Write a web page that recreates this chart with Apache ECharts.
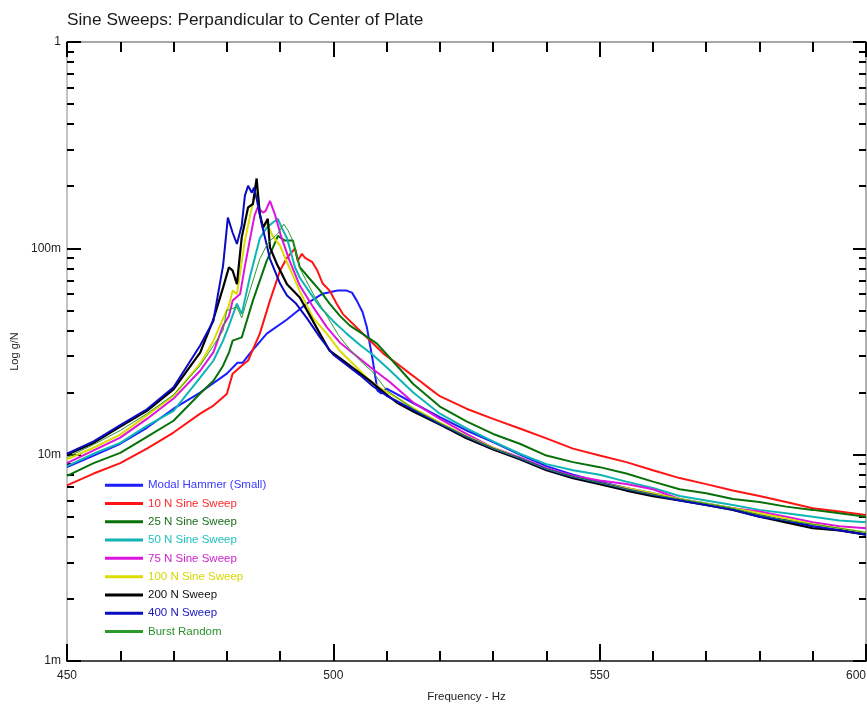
<!DOCTYPE html>
<html>
<head>
<meta charset="utf-8">
<script src="https://cdn.jsdelivr.net/npm/echarts@6/dist/echarts.min.js"></script>
<style>
  html, body { margin: 0; padding: 0; background: #ffffff; }
  #chart { width: 867px; height: 709px; }
</style>
</head>
<body>
<div id="chart"></div>
<script>
// Frequency response (g/N) of the plate, measured perpendicular to its center.
// Each series: [frequency in Hz, response in g/N]

const modalHammer = [
  [450, 0.0087], [455, 0.0099], [460, 0.0113], [465, 0.0135], [470, 0.0167], [475, 0.0200],
  [480, 0.0247], [482, 0.0279], [483, 0.0279], [484.3, 0.0309], [487.5, 0.0386], [491.3, 0.0452],
  [495, 0.0540], [498, 0.0603], [500.8, 0.0624], [502.5, 0.0624], [503.5, 0.0610], [504.4, 0.0558],
  [505.5, 0.0490], [506.3, 0.0414], [507.4, 0.0286], [508.3, 0.0204], [509, 0.0198], [510, 0.0209],
  [515, 0.0178], [520, 0.0152], [525, 0.0131], [530, 0.0115], [535, 0.0100], [540, 0.0088],
  [545, 0.0080], [550, 0.0074], [555, 0.0069], [560, 0.0065], [565, 0.0061], [570, 0.0058],
  [575, 0.0055], [580, 0.0051], [585, 0.0048], [590, 0.0045], [595, 0.0043], [600, 0.0041]
];

const sweep10N = [
  [450, 0.0071], [455, 0.0081], [460, 0.0091], [465, 0.0107], [470, 0.0128], [475, 0.0158],
  [477.5, 0.0173], [480, 0.0197], [481.1, 0.0247], [482.8, 0.0270], [484, 0.0286], [486.2, 0.0386],
  [488.1, 0.0558], [490, 0.0780], [491.3, 0.0900], [492.8, 0.1000], [493.3, 0.0870], [494.1, 0.0940],
  [494.7, 0.0900], [496, 0.0860], [497, 0.0780], [498, 0.0675], [499.3, 0.0624], [500.6, 0.0540],
  [501.8, 0.0480], [503.7, 0.0430], [505.6, 0.0385], [507.5, 0.0345], [509.4, 0.0309], [512, 0.0276],
  [514.4, 0.0247], [516.2, 0.0228], [518.1, 0.0209], [520, 0.0192], [525, 0.0167], [530, 0.0149],
  [535, 0.0134], [540, 0.0120], [545, 0.0107], [550, 0.0099], [555, 0.0092], [560, 0.0084],
  [565, 0.0077], [570, 0.0072], [575, 0.0067], [580, 0.0063], [585, 0.0059], [590, 0.0055],
  [595, 0.0053], [600, 0.0051]
];

const sweep25N = [
  [450, 0.0079], [455, 0.0091], [460, 0.0102], [465, 0.0122], [470, 0.0146], [475, 0.0198],
  [477.5, 0.0228], [479.3, 0.0270], [480.4, 0.0312], [481.1, 0.0357], [482.8, 0.0370], [484.9, 0.0558],
  [487.5, 0.0872], [488.6, 0.1000], [489.6, 0.1150], [490.9, 0.1090], [492.4, 0.1090], [493.7, 0.0810],
  [495.6, 0.0710], [497.5, 0.0624], [499.3, 0.0540], [501.2, 0.0472], [503.1, 0.0422], [505.5, 0.0385],
  [508.2, 0.0345], [510.6, 0.0295], [515, 0.0220], [520, 0.0171], [525, 0.0145], [530, 0.0126],
  [535, 0.0113], [540, 0.0099], [545, 0.0092], [550, 0.0087], [555, 0.0081], [560, 0.0074],
  [565, 0.0068], [570, 0.0065], [575, 0.0061], [580, 0.0059], [585, 0.0056], [590, 0.0054],
  [595, 0.0052], [600, 0.0050]
];

const sweep50N = [
  [450, 0.0088], [455, 0.0101], [460, 0.0114], [465, 0.0138], [470, 0.0163], [475, 0.0236],
  [477.5, 0.0286], [479.3, 0.0357], [480.4, 0.0422], [481.9, 0.0540], [482.8, 0.0480], [484.3, 0.0720],
  [486.2, 0.1120], [487.5, 0.1260], [488.6, 0.1330], [489.6, 0.1390], [490.3, 0.1260], [491.3, 0.1120],
  [492.8, 0.0810], [493.7, 0.0720], [495.6, 0.0610], [497.5, 0.0520], [499.9, 0.0446], [502.5, 0.0386],
  [505, 0.0340], [507.4, 0.0305], [510, 0.0265], [515, 0.0200], [520, 0.0158], [525, 0.0134],
  [530, 0.0116], [535, 0.0101], [540, 0.0090], [545, 0.0084], [550, 0.0080], [555, 0.0074],
  [560, 0.0069], [565, 0.0063], [570, 0.0060], [575, 0.0057], [580, 0.0054], [585, 0.0052],
  [590, 0.0050], [595, 0.0048], [600, 0.0047]
];

const sweep75N = [
  [450, 0.0091], [455, 0.0105], [460, 0.0121], [465, 0.0149], [470, 0.0187], [475, 0.0255],
  [477.5, 0.0314], [479.3, 0.0422], [480.4, 0.0470], [481.1, 0.0558], [482.5, 0.0600], [483.4, 0.0820],
  [484.3, 0.1090], [485.2, 0.1440], [485.8, 0.1580], [486.8, 0.1490], [487.3, 0.1520], [488.1, 0.1700],
  [489, 0.1470], [490.3, 0.1120], [491.8, 0.0870], [493.7, 0.0660], [496.2, 0.0520], [498.8, 0.0414],
  [501.2, 0.0350], [504.4, 0.0300], [507.4, 0.0260], [510.6, 0.0225], [515, 0.0179], [520, 0.0149],
  [525, 0.0126], [530, 0.0108], [535, 0.0097], [540, 0.0086], [545, 0.0079], [550, 0.0075],
  [555, 0.0072], [560, 0.0068], [565, 0.0061], [570, 0.0057], [575, 0.0055], [580, 0.0053],
  [585, 0.0050], [590, 0.0047], [595, 0.0045], [600, 0.0044]
];

const sweep100N = [
  [450, 0.0095], [455, 0.0108], [460, 0.0125], [465, 0.0155], [470, 0.0193], [475, 0.0276],
  [477.5, 0.0357], [479.3, 0.0456], [480.4, 0.0528], [481.1, 0.0624], [481.9, 0.0600], [483.4, 0.1090],
  [484.7, 0.1580], [485.6, 0.1950], [486.2, 0.1470], [486.8, 0.1260], [487.5, 0.1330], [488.6, 0.1150],
  [490, 0.1030], [491, 0.0890], [492.4, 0.0740], [493.7, 0.0620], [496.2, 0.0460], [498.8, 0.0385],
  [501.2, 0.0319], [503.7, 0.0276], [506.3, 0.0236], [508.7, 0.0211], [511.9, 0.0189], [515, 0.0168],
  [520, 0.0143], [525, 0.0123], [530, 0.0108], [535, 0.0096], [540, 0.0085], [545, 0.0078],
  [550, 0.0073], [555, 0.0069], [560, 0.0065], [565, 0.0061], [570, 0.0058], [575, 0.0055],
  [580, 0.0052], [585, 0.0049], [590, 0.0046], [595, 0.0044], [600, 0.0042]
];

const sweep200N = [
  [450, 0.0100], [455, 0.0114], [460, 0.0137], [465, 0.0163], [470, 0.0207], [475, 0.0312],
  [477.4, 0.0446], [479.3, 0.0645], [480.4, 0.0810], [481.1, 0.0780], [481.9, 0.0670], [482.8, 0.1130],
  [484, 0.1580], [484.9, 0.1640], [485.6, 0.2180], [486.2, 0.1470], [486.8, 0.1260], [487.7, 0.1390],
  [488.1, 0.1010], [489.4, 0.0840], [491.3, 0.0670], [493.7, 0.0578], [495.6, 0.0472], [497.5, 0.0385],
  [499.3, 0.0319], [501.8, 0.0286], [504.4, 0.0255], [506.9, 0.0228], [509.3, 0.0202], [511.9, 0.0179],
  [515, 0.0162], [520, 0.0140], [525, 0.0120], [530, 0.0106], [535, 0.0095], [540, 0.0084],
  [545, 0.0077], [550, 0.0072], [555, 0.0067], [560, 0.0063], [565, 0.0060], [570, 0.0057],
  [575, 0.0054], [580, 0.0050], [585, 0.0047], [590, 0.0044], [595, 0.0043], [600, 0.0041]
];

const sweep400N = [
  [450, 0.0101], [455, 0.0116], [460, 0.0139], [465, 0.0166], [470, 0.0212], [475, 0.0338],
  [477.5, 0.0446], [478.3, 0.0590], [479.3, 0.0825], [480.2, 0.1410], [481.1, 0.1190], [481.9, 0.1050],
  [482.8, 0.1290], [483.4, 0.1800], [484, 0.2010], [484.7, 0.1860], [485.1, 0.1970], [485.6, 0.1740],
  [486.5, 0.1330], [487.3, 0.1090], [488.1, 0.0890], [489, 0.0780], [490, 0.0675], [491.3, 0.0590],
  [493, 0.0540], [495, 0.0460], [497.5, 0.0370], [500, 0.0305], [502.5, 0.0272], [505, 0.0243],
  [507.5, 0.0214], [510, 0.0193], [515, 0.0165], [520, 0.0141], [525, 0.0122], [530, 0.0107],
  [535, 0.0096], [540, 0.0085], [545, 0.0078], [550, 0.0073], [555, 0.0068], [560, 0.0064],
  [565, 0.0060], [570, 0.0057], [575, 0.0054], [580, 0.0050], [585, 0.0048], [590, 0.0045],
  [595, 0.0043], [600, 0.0041]
];

const burstRandom = [
  [450, 0.0097], [455, 0.0112], [460, 0.0131], [465, 0.0158], [470, 0.0195], [475, 0.0270],
  [477.5, 0.0338], [479.3, 0.0400], [480, 0.0500], [481.9, 0.0520], [482.8, 0.0460], [484.3, 0.0620],
  [486.2, 0.0890], [487.7, 0.1060], [489.6, 0.1180], [490.7, 0.1310], [491.5, 0.1220], [492.4, 0.1090],
  [493.7, 0.0800], [496.2, 0.0603], [498.8, 0.0470], [501, 0.0378], [503, 0.0326], [505, 0.0286],
  [507.5, 0.0250], [510, 0.0205], [515, 0.0167], [520, 0.0142], [525, 0.0122], [530, 0.0107],
  [535, 0.0096], [540, 0.0085], [545, 0.0078], [550, 0.0073], [555, 0.0068], [560, 0.0064],
  [565, 0.0061], [570, 0.0058], [575, 0.0055], [580, 0.0051], [585, 0.0048], [590, 0.0046],
  [595, 0.0044], [600, 0.0042]
];

const seriesNames = [
  'Modal Hammer (Small)', '10 N Sine Sweep', '25 N Sine Sweep', '50 N Sine Sweep',
  '75 N Sine Sweep', '100 N Sine Sweep', '200 N Sweep', '400 N Sweep', 'Burst Random'
];
const seriesData = [
  modalHammer, sweep10N, sweep25N, sweep50N, sweep75N, sweep100N, sweep200N, sweep400N, burstRandom
];

// Axis ticks
const freqTicks = [450, 500, 550, 600];
const yTickLabels = { '0': '1', '-1': '100m', '-2': '10m', '-3': '1m' };

// Styling
const lineColors = ['#1c1cff', '#ff1414', '#087008', '#10b4b4', '#dc14dc', '#dcdc00', '#000000', '#0a0ac0', '#2c9a2c'];
const textColors = ['#3a3aff', '#ff2a2a', '#1a6e1a', '#20c0c0', '#d020d0', '#d8d800', '#111111', '#1414c0', '#2a902a'];
const lineWidths = [2, 2, 2, 2, 2, 2, 2.2, 2, 1];

const FONT = '"Liberation Sans", Arial, sans-serif';

// Minor log ticks at 2..9 of every decade
const minorLogTicks = [];
for (let e = -3; e < 0; e++) {
  for (let m = 2; m <= 9; m++) minorLogTicks.push(m * Math.pow(10, e));
}

const chart = echarts.init(document.getElementById('chart'), null, { renderer: 'canvas' });

const tickStyle = { color: '#000000', width: 2 };

const logAxisBase = {
  type: 'log',
  logBase: 10,
  min: 0.001,
  max: 1,
  splitLine: { show: false },
  minorSplitLine: { show: false }
};

chart.setOption({
  animation: false,
  backgroundColor: '#ffffff',
  title: {
    text: 'Sine Sweeps: Perpandicular to Center of Plate',
    left: 67,
    top: 12,
    padding: 0,
    textStyle: { fontFamily: FONT, fontSize: 17.3, fontWeight: 'normal', color: '#1a1a1a' }
  },
  grid: { left: 67, right: 1, top: 42, bottom: 48, containLabel: false, outerBoundsMode: 'none' },
  legend: {
    orient: 'vertical',
    left: 105,
    top: 476,
    padding: 0,
    itemGap: 0,
    itemWidth: 38,
    itemHeight: 3,
    icon: 'rect',
    selectedMode: false,
    textStyle: { fontFamily: FONT, fontSize: 11.5, lineHeight: 18.3 },
    data: seriesNames.map((name, i) => ({ name: name, textStyle: { color: textColors[i] } }))
  },
  xAxis: [
    {
      type: 'value',
      position: 'bottom',
      min: freqTicks[0],
      max: freqTicks[freqTicks.length - 1],
      interval: 50,
      name: 'Frequency - Hz',
      nameLocation: 'middle',
      nameGap: 30,
      nameTextStyle: { fontFamily: FONT, fontSize: 11.5, color: '#222222' },
      axisLine: { show: true, onZero: false, lineStyle: { color: '#4a4a4a', width: 2 } },
      axisTick: { show: true, inside: true, length: 17, lineStyle: tickStyle },
      minorTick: { show: true, splitNumber: 5, length: 10, lineStyle: tickStyle },
      axisLabel: { margin: 9, fontFamily: FONT, fontSize: 12, color: '#222222', alignMaxLabel: 'right' },
      splitLine: { show: false }
    },
    {
      type: 'value',
      position: 'top',
      min: freqTicks[0],
      max: freqTicks[freqTicks.length - 1],
      interval: 50,
      axisLine: { show: true, onZero: false, lineStyle: { color: '#a8a8a8', width: 2 } },
      axisTick: { show: true, inside: true, length: 15, lineStyle: tickStyle },
      minorTick: { show: true, splitNumber: 5, length: 10, lineStyle: tickStyle },
      axisLabel: { show: false },
      splitLine: { show: false }
    }
  ],
  yAxis: [
    Object.assign({}, logAxisBase, {
      position: 'left',
      name: 'Log g/N',
      nameLocation: 'middle',
      nameGap: 46,
      nameRotate: 90,
      nameTextStyle: { fontFamily: FONT, fontSize: 11, color: '#222222' },
      axisLine: { show: true, onZero: false, lineStyle: { color: '#c4c4c4', width: 2 } },
      axisTick: { show: true, inside: true, length: 14, lineStyle: tickStyle },
      axisLabel: {
        margin: 6, fontFamily: FONT, fontSize: 12, color: '#222222',
        formatter: v => yTickLabels[String(Math.round(Math.log10(v)))] || ''
      }
    }),
    Object.assign({}, logAxisBase, {
      position: 'left',
      axisLine: { show: false },
      axisTick: { show: true, inside: true, length: 7, lineStyle: tickStyle, customValues: minorLogTicks },
      axisLabel: { show: false }
    }),
    Object.assign({}, logAxisBase, {
      position: 'right',
      axisLine: { show: true, onZero: false, lineStyle: { color: '#b0b0b0', width: 2 } },
      axisTick: { show: true, inside: true, length: 13, lineStyle: tickStyle },
      axisLabel: { show: false }
    }),
    Object.assign({}, logAxisBase, {
      position: 'right',
      axisLine: { show: false },
      axisTick: { show: true, inside: true, length: 7, lineStyle: tickStyle, customValues: minorLogTicks },
      axisLabel: { show: false }
    })
  ],
  series: seriesNames.map((name, i) => ({
    name: name,
    type: 'line',
    xAxisIndex: 0,
    yAxisIndex: 0,
    data: seriesData[i],
    symbol: 'none',
    showSymbol: false,
    clip: true,
    color: lineColors[i],
    lineStyle: { color: lineColors[i], width: lineWidths[i] },
    emphasis: { disabled: true }
  }))
});
</script>
</body>
</html>
